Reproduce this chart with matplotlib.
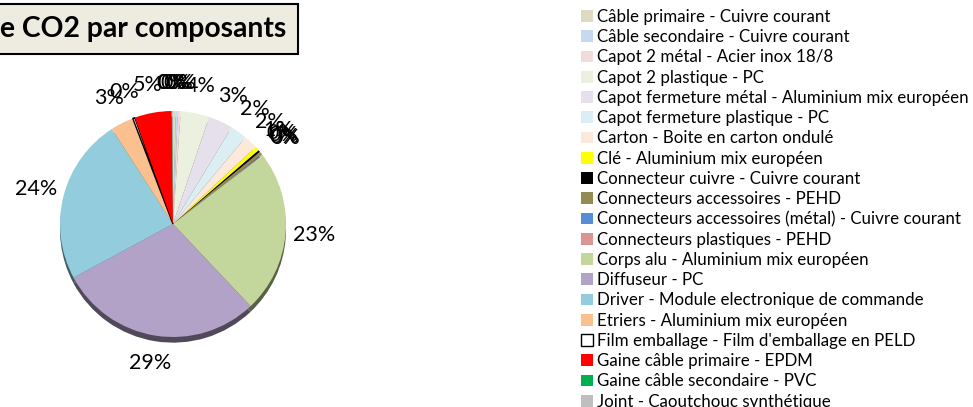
import matplotlib.pyplot as plt
import matplotlib.colors as mcolors

# composants (ordre de la legende et du camembert)
composants = [
    "Câble primaire - Cuivre courant",
    "Câble secondaire - Cuivre courant",
    "Capot 2 métal - Acier inox 18/8",
    "Capot 2 plastique - PC",
    "Capot fermeture métal - Aluminium mix européen",
    "Capot fermeture plastique - PC",
    "Carton - Boite en carton ondulé",
    "Clé - Aluminium mix européen",
    "Connecteur cuivre - Cuivre courant",
    "Connecteurs accessoires - PEHD",
    "Connecteurs accessoires (métal) - Cuivre courant",
    "Connecteurs plastiques - PEHD",
    "Corps alu - Aluminium mix européen",
    "Diffuseur - PC",
    "Driver - Module electronique de commande",
    "Etriers - Aluminium mix européen",
    "Film emballage - Film d'emballage en PELD",
    "Gaine câble primaire - EPDM",
    "Gaine câble secondaire - PVC",
    "Joint - Caoutchouc synthétique",
]
parts = [0.4, 0.3, 0.4, 4.1, 3.5, 2.4, 2.0, 0.6, 0.3, 0.4,
         0.1, 0.1, 23.4, 29.2, 23.8, 3.3, 0.3, 5.3, 0.1, 0.1]
couleurs = ["#DDD9C3", "#C6D9F1", "#F2DCDB", "#EBF1DE", "#E5E0EC",
            "#DBEEF4", "#FDE9D9", "#FFFF00", "#000000", "#948A54",
            "#558ED5", "#D99694", "#C3D69B", "#B3A2C7", "#93CDDD",
            "#FAC090", "#FFFFFF", "#FF0000", "#00B050", "#BFBFBF"]

FONT = "Lato"

fig = plt.figure(figsize=(9.73, 4.07), dpi=100)

# axes du camembert, centre vers (173, 224) px
W, H = 973, 407
cx, cy, r = 173, 224, 113
k = 1.45
side = 2 * k * r
ax = fig.add_axes([(cx - k * r) / W, (H - cy - k * r) / H, side / W, side / H])

# bord 3D : camembert assombri decale vers le bas
sombres = [tuple(c * 0.45 for c in mcolors.to_rgb(col)) for col in couleurs]
ax.pie(parts, colors=sombres, startangle=90, counterclock=False,
       center=(0, -0.05), radius=1.0, wedgeprops=dict(linewidth=0))

wedges, _, pcts = ax.pie(parts, colors=couleurs, startangle=90, counterclock=False,
                         radius=1.0, autopct="%1.0f%%", pctdistance=1.25,
                         wedgeprops=dict(linewidth=0),
                         textprops=dict(fontsize=15.5, family=FONT, color="black"))
film = composants.index("Film emballage - Film d'emballage en PELD")
wedges[film].set_edgecolor("black")
wedges[film].set_linewidth(1.0)

ax.set_xlim(-k, k)
ax.set_ylim(-k, k)
ax.set_aspect("equal")
ax.axis("off")

# titre (coupe a gauche comme l'original)
fig.text(0.0, (H - 29) / H, "e CO2 par composants", fontsize=20.3, fontweight="bold",
         family=FONT, ha="left", va="center",
         bbox=dict(boxstyle="square,pad=0.42", facecolor="#EEECE1",
                   edgecolor="black", linewidth=1.5))

leg = fig.legend(wedges, composants, loc="upper left",
                 bbox_to_anchor=(581 / W, 1 - 9 / H), frameon=False,
                 prop=dict(family=FONT, size=12.2), handlelength=0.7,
                 handleheight=0.7, handletextpad=0.25, labelspacing=0.25,
                 borderaxespad=0, borderpad=0)

fig.savefig("out.png", dpi=100)
